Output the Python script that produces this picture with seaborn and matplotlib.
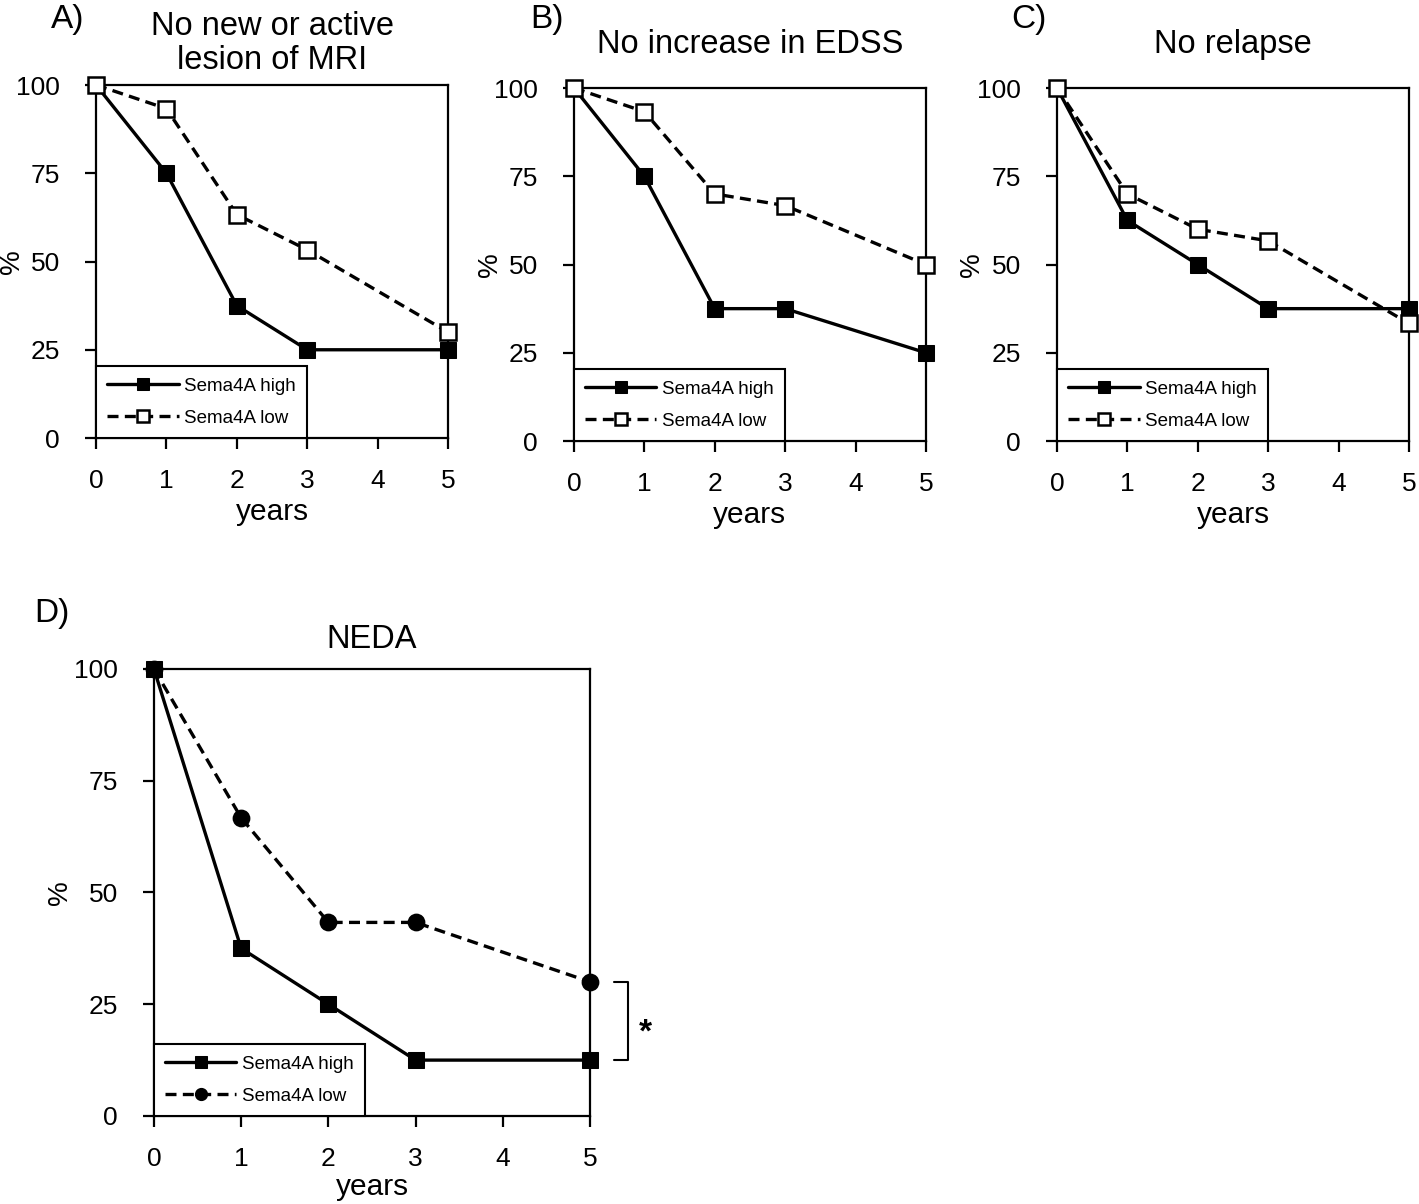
import matplotlib
matplotlib.use("Agg")
import matplotlib.pyplot as plt
import pandas as pd
import seaborn as sns

# follow-up time points
years = [0, 1, 2, 3, 5]

# A) no new or active lesion of MRI
mri_high = [100, 75, 37.5, 25, 25]
mri_low = [100, 93.3, 63.3, 53.3, 30]

# B) no increase in EDSS
edss_high = [100, 75, 37.5, 37.5, 25]
edss_low = [100, 93.3, 70, 66.7, 50]

# C) no relapse
relapse_high = [100, 62.5, 50, 37.5, 37.5]
relapse_low = [100, 70, 60, 56.7, 33.3]

# D) NEDA
neda_high = [100, 37.5, 25, 12.5, 12.5]
neda_low = [100, 66.7, 43.3, 43.3, 30]

y_ticks = [0, 25, 50, 75, 100]
x_ticks = [0, 1, 2, 3, 4, 5]

sns.set_style("white")
plt.rcParams["font.family"] = ["Liberation Sans", "DejaVu Sans"]
plt.rcParams["text.color"] = "black"
plt.rcParams["axes.labelcolor"] = "black"
plt.rcParams["xtick.color"] = "black"
plt.rcParams["ytick.color"] = "black"

fig = plt.figure(figsize=(14.19, 12.04), dpi=100)

LW = 2.4
DASH = (0, (3.3, 1.9))


def draw_panel(ax, high, low, title, title_y, low_marker, low_face,
               ylab_x, xlab_y):
    df = pd.DataFrame({"years": years, "high": high, "low": low})
    sns.lineplot(data=df, x="years", y="high", ax=ax, color="black", lw=LW,
                 marker="s", markersize=12, markerfacecolor="black",
                 markeredgecolor="black", label="Sema4A high",
                 clip_on=False, zorder=5)
    sns.lineplot(data=df, x="years", y="low", ax=ax, color="black", lw=LW,
                 linestyle=DASH, marker=low_marker,
                 markersize=12 if low_marker == "s" else 11,
                 markerfacecolor=low_face, markeredgecolor="black",
                 markeredgewidth=1.8, label="Sema4A low",
                 clip_on=False, zorder=6)
    ax.set_xlim(0, 5)
    ax.set_ylim(0, 100)
    ax.set_xticks(x_ticks)
    ax.set_yticks(y_ticks)
    ax.tick_params(axis="both", direction="out", length=8, width=1.6,
                   labelsize=19, color="black", bottom=True, left=True)
    ax.tick_params(axis="x", pad=14)
    ax.tick_params(axis="y", pad=18)
    for s in ax.spines.values():
        s.set_visible(True)
        s.set_color("black")
        s.set_linewidth(1.6)
    ax.set_xlabel("years", fontsize=21.5)
    ax.xaxis.label.set_va("center")
    ax.xaxis.set_label_coords(0.5, xlab_y)
    ax.set_ylabel("%", fontsize=20)
    ax.yaxis.label.set_va("center")
    ax.yaxis.set_label_coords(ylab_x, 0.5)
    ax.text(0.5, title_y, title, transform=ax.transAxes, fontsize=23.5,
            ha="center", va="center", linespacing=1.15)
    leg = ax.legend(loc="lower left", borderaxespad=0, fontsize=13.5,
                    frameon=True, fancybox=False, framealpha=1,
                    edgecolor="black", handlelength=3.8, markerscale=0.7,
                    labelspacing=0.8, borderpad=0.6, handletextpad=0.3)
    leg.get_frame().set_linewidth(1.5)
    leg.set_zorder(4)
    for t in leg.get_texts():
        t.set_color("black")


ax_a = fig.add_axes([0.0677, 0.6362, 0.248, 0.2932])
ax_b = fig.add_axes([0.4045, 0.6337, 0.248, 0.2932])
ax_c = fig.add_axes([0.7449, 0.6337, 0.248, 0.2932])
ax_d = fig.add_axes([0.1085, 0.0731, 0.3073, 0.3713])

draw_panel(ax_a, mri_high, mri_low, "No new or active\nlesion of MRI", 1.118,
           "s", "white", -0.239, -0.21)
draw_panel(ax_b, edss_high, edss_low, "No increase in EDSS", 1.122,
           "s", "white", -0.239, -0.21)
draw_panel(ax_c, relapse_high, relapse_low, "No relapse", 1.122,
           "s", "white", -0.241, -0.21)
draw_panel(ax_d, neda_high, neda_low, "NEDA", 1.065,
           "o", "black", -0.216, -0.159)

# significance bracket between the two NEDA curves at year 5
ax_d.plot([5.275, 5.436, 5.436, 5.275], [neda_low[-1], neda_low[-1],
          neda_high[-1], neda_high[-1]], color="black", lw=1.5, clip_on=False)
ax_d.text(5.63, 18.5, "*", fontsize=24, ha="center", va="center",
          fontweight="bold")

# panel letters
for label, x, y in [("A)", 0.036, 0.997), ("B)", 0.374, 0.997),
                    ("C)", 0.713, 0.997), ("D)", 0.024, 0.503)]:
    fig.text(x, y, label, fontsize=24, ha="left", va="top")

fig.savefig("out.png", dpi=100)
